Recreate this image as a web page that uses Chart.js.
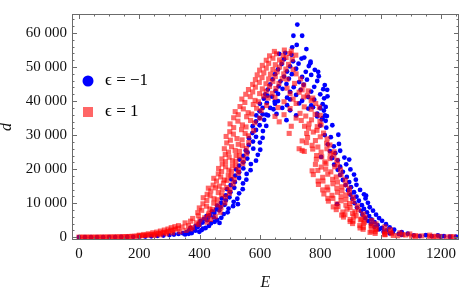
<!DOCTYPE html>
<html>
<head>
<meta charset="utf-8">
<script src="https://cdn.jsdelivr.net/npm/chart.js@4.4.0/dist/chart.umd.min.js"></script>
<style>
  html, body { margin: 0; padding: 0; background: #fff; }
  #wrap { width: 463px; height: 291px; }
</style>
</head>
<body>
<div id="wrap"><canvas id="chart" width="463" height="291"></canvas></div>
<script>

// eps = -1 (blue dots)
const blueTail = [
  [0, 0], [20, 0], [40, 0], [60, 0], [80, 0], [100, 0.02], [120, 0.03], [140, 0.05], [160, 0.07],
  [180, 0.1], [200, 0.14], [220, 0.2], [240, 0.27], [260, 0.36], [280, 0.48], [300, 0.62],
  [315, 0.78], [330, 0.95], [345, 1.15], [352, 0.8], [364, 1.0]
];
const blueRise = [
  [357, 1.5], [374, 1.2], [386, 1.9], [366, 2.1], [382, 2.3], [399, 1.6], [411, 2.5],
  [370, 2.7], [394, 3.0], [407, 2.1], [387, 3.3], [400, 3.6], [420, 2.7],
  [398, 4.0], [410, 4.3], [431, 3.3], [403, 4.8], [425, 5.0], [438, 4.1],
  [414, 5.3], [428, 5.7], [450, 4.5], [466, 4.2], [423, 6.2], [447, 5.8], [458, 5.1],
  [435, 6.5], [449, 7.1], [472, 5.7], [441, 7.6], [465, 7.9], [480, 6.8],
  [455, 8.2], [469, 8.8], [493, 7.3], [458, 9.3], [483, 9.5], [496, 8.4],
  [471, 10.1], [487, 10.8], [511, 9.1], [474, 11.4], [499, 11.7], [513, 10.4], [527, 9.7],
  [487, 12.3], [502, 13.2], [525, 11.3], [491, 14.1], [515, 14.5], [531, 12.9],
  [503, 15.3], [517, 16.2], [543, 14.1], [505, 17.0], [531, 17.4], [544, 15.8],
  [518, 18.1], [531, 19.1], [555, 16.9], [521, 19.9], [545, 20.2], [556, 18.6],
  [531, 21.0], [545, 22.0], [569, 19.7], [532, 22.8], [558, 23.1], [570, 21.5],
  [545, 23.9], [559, 24.9], [587, 22.5], [553, 25.5], [578, 26.0], [593, 24.2],
  [563, 27.1], [577, 28.1], [601, 25.7], [564, 29.1], [587, 29.5], [600, 27.8],
  [575, 30.6], [587, 31.5], [609, 29.2], [576, 32.6], [599, 32.9], [610, 31.2],
  [587, 34.0], [599, 35.0], [621, 32.7], [588, 35.8], [609, 36.1], [614, 34.5],
  [599, 37.0], [609, 38.0], [627, 35.8], [600, 39.2], [623, 39.5], [634, 38.0],
  [613, 40.7], [625, 41.6], [649, 39.8]
];
const blueCap = [
  [618, 42.0], [640, 41.3], [660, 42.1], [690, 41.0], [720, 41.8], [760, 41.2], [800, 42.0], [824, 41.4],
  [626, 43.4], [652, 43.0], [675, 43.6], [700, 42.7], [735, 43.3], [770, 42.8], [810, 43.5], [823, 43.3],
  [634, 44.9], [662, 44.3], [688, 45.0], [712, 44.1], [745, 44.8], [780, 44.2], [815, 44.7],
  [642, 46.4], [668, 45.8], [696, 46.6], [730, 45.6], [756, 46.3], [790, 45.9],
  [650, 47.9], [680, 47.2], [706, 47.9], [740, 47.1], [770, 47.7], [795, 47.3],
  [660, 49.3], [690, 48.7], [720, 49.5], [752, 48.6], [782, 49.2], [793, 48.6],
  [672, 50.9], [700, 50.2], [728, 51.0], [762, 50.3], [767, 51.1],
  [680, 52.3], [710, 51.7], [738, 52.5], [768, 51.6],
  [664, 53.9], [684, 54.2], [747, 52.8], [705, 53.6],
  [707, 55.8], [754, 55.3], [722, 56.5],
  [711, 59.2], [740, 59.2], [724, 62.5],
  [621, 36.0], [655, 36.2], [674, 38.0], [688, 34.4], [650, 39.2], [690, 38.8], [730, 39.3], [770, 38.7], [808, 39.1],
  [645, 37.6], [700, 37.3], [760, 37.8], [812, 37.2], [720, 35.8], [790, 36.3], [816, 35.8], [805, 34.6], [818, 34.2],
  [776, 38.2], [800, 37.9], [818, 38.3], [813, 40.8], [660, 40.0], [700, 40.5], [740, 40.1], [780, 40.4]
];
const blueFall = [
  [790, 35.5], [808, 35.0], [822, 35.6],
  [800, 32.8], [820, 32.2], [840, 32.9],
  [815, 30.0], [835, 29.4], [860, 30.1],
  [825, 27.3], [845, 26.7], [862, 27.4],
  [832, 25.3], [850, 24.7], [866, 25.4],
  [838, 23.3], [858, 22.6], [880, 23.4], [896, 22.8], [803, 23.6], [840, 23.3],
  [846, 21.3], [866, 20.7], [886, 21.4],
  [858, 19.8], [875, 19.2], [900, 19.9],
  [866, 18.3], [888, 17.7], [912, 18.4],
  [875, 16.8], [896, 16.2], [918, 16.9],
  [884, 15.3], [902, 14.7], [920, 15.4],
  [892, 13.8], [912, 13.2], [932, 13.9],
  [900, 12.5], [920, 11.9], [945, 12.6], [952, 12.2],
  [906, 11.3], [928, 10.7], [950, 11.4],
  [856, 9.7], [914, 10.0], [938, 9.4], [958, 10.1],
  [922, 8.7], [945, 8.3], [964, 8.8],
  [935, 7.7], [955, 7.3], [975, 7.8],
  [940, 6.6], [962, 6.2], [985, 6.6],
  [948, 5.6], [970, 5.2], [995, 5.6],
  [958, 4.8], [980, 4.4], [1005, 4.8],
  [968, 3.9], [990, 3.5], [1018, 3.8],
  [980, 3.0], [1005, 2.7], [1030, 2.9],
  [995, 2.3], [1020, 2.0], [1045, 2.2],
  [1010, 1.6], [1040, 1.4], [1070, 1.5],
  [1030, 1.1], [1060, 0.95], [1090, 1.0],
  [1070, 0.65], [1110, 0.55], [1150, 0.6], [1190, 0.5],
  [1130, 0.32], [1170, 0.28], [1210, 0.3],
  [1200, 0.16], [1230, 0.14], [1250, 0.15]
];

// eps = 1 (red squares)
const redTail = [
  [0, 0], [8, 0], [16, 0], [24, 0], [32, 0], [40, 0], [48, 0], [56, 0], [64, 0.02], [72, 0.02],
  [80, 0.03], [88, 0.03], [96, 0.05], [104, 0.05], [112, 0.07], [120, 0.08], [128, 0.1], [136, 0.1],
  [144, 0.13], [152, 0.15], [160, 0.18], [168, 0.2], [176, 0.25], [184, 0.28], [192, 0.32],
  [200, 0.38], [208, 0.44], [216, 0.5], [224, 0.58], [232, 0.65], [240, 0.75], [248, 0.85],
  [256, 0.95], [264, 1.05], [272, 1.2], [280, 1.35], [288, 1.5], [296, 1.7], [304, 1.9],
  [312, 2.1], [320, 2.35], [328, 2.6],
  [200, 0.6], [215, 0.8], [230, 1.0], [245, 1.3], [258, 1.5], [270, 1.8], [283, 2.1], [295, 2.4],
  [306, 2.8], [318, 3.1], [330, 3.4], [250, 0.5], [270, 0.7], [290, 1.0], [310, 1.3], [335, 1.6],
  [355, 2.0], [370, 2.4]
];
const redRise = [
  [342, 3.0], [363, 3.4], [376, 2.8], [397, 3.7], [352, 4.2],
  [370, 4.7], [389, 4.2], [401, 5.1], [425, 4.4], [436, 5.2],
  [377, 5.5], [396, 6.3], [417, 5.7], [429, 6.5], [452, 6.0],
  [394, 7.2], [407, 7.9], [431, 7.0], [443, 8.1], [468, 7.3],
  [399, 8.6], [423, 9.1], [434, 8.3], [459, 9.5], [471, 8.7],
  [411, 9.8], [424, 10.8], [447, 10.0], [459, 11.0], [484, 10.1],
  [412, 11.6], [435, 12.2], [448, 11.3], [473, 12.4], [486, 11.8],
  [425, 12.6], [437, 13.6], [462, 13.1], [475, 13.9], [499, 12.9],
  [429, 14.4], [453, 14.5], [465, 15.0], [490, 14.6], [501, 14.0],
  [445, 15.3], [456, 16.5], [479, 15.9], [491, 16.7], [511, 15.6],
  [447, 17.3], [470, 17.7], [482, 16.8], [504, 18.0], [515, 17.0],
  [462, 18.6], [473, 19.3], [495, 18.2], [506, 19.4], [528, 18.8],
  [463, 20.2], [486, 20.7], [497, 19.7], [520, 20.9], [529, 19.8],
  [475, 21.5], [486, 22.2], [509, 21.0], [520, 22.3], [543, 21.6],
  [474, 23.0], [498, 23.5], [509, 22.5], [532, 23.8], [545, 22.9],
  [485, 24.3], [496, 25.0], [521, 24.0], [532, 25.2], [556, 24.5],
  [482, 26.0], [506, 26.6], [518, 25.5], [542, 26.9], [555, 26.1],
  [490, 27.7], [502, 28.5], [528, 27.3], [541, 28.6], [563, 27.9],
  [488, 29.6], [512, 30.3], [524, 29.0], [551, 30.5], [562, 29.8],
  [500, 31.0], [513, 32.2], [539, 31.6], [554, 32.4], [579, 31.3],
  [501, 33.3], [527, 34.1], [542, 33.0], [569, 34.3], [583, 33.6],
  [513, 35.1], [528, 36.0], [556, 35.4], [573, 36.2], [600, 35.0],
  [518, 36.9], [545, 37.7], [561, 36.6], [589, 37.9], [604, 37.2],
  [534, 38.4], [550, 39.6], [578, 39.0], [595, 39.8], [622, 38.7],
  [540, 40.6], [568, 41.3], [584, 40.2], [612, 41.5], [627, 40.9]
];
const redCap = [
  [553, 42.0], [576, 42.7], [599, 42.2], [621, 42.9], [641, 42.3],
  [562, 43.4], [585, 44.1], [608, 43.6], [632, 44.3], [653, 43.7],
  [576, 44.9], [598, 45.5], [620, 45.1], [643, 45.8], [663, 45.2],
  [585, 46.3], [607, 46.9], [629, 46.5], [651, 47.2], [674, 46.6],
  [591, 47.7], [613, 48.3], [635, 47.9], [657, 48.6], [679, 48.0],
  [599, 49.1], [621, 49.7], [643, 49.3], [665, 50.0], [686, 49.4],
  [608, 50.5], [629, 51.1], [651, 50.7], [673, 51.4], [695, 50.8],
  [621, 52.0], [643, 52.6], [665, 52.1], [687, 52.8], [707, 52.3],
  [632, 53.3], [655, 53.9], [677, 53.4], [699, 54.0], [719, 53.5],
  [648, 54.6], [681, 55.0], [704, 54.7],
  [700, 42.2], [730, 42.6], [690, 43.8], [740, 43.3], [715, 45.2], [745, 44.7], [735, 46.5],
  [720, 48.0], [710, 49.3], [757, 41.6], [770, 40.2], [785, 39.3], [660, 38.1], [700, 37.8],
  [747, 38.3], [770, 37.6], [797, 38.2], [680, 39.8], [720, 39.3], [650, 41.1], [710, 40.6],
  [745, 41.2], [775, 40.9], [760, 43.0], [690, 46.4],
  [664, 33.9], [697, 30.5], [704, 32.6], [730, 26.0], [740, 25.5], [747, 25.2], [754, 27.8],
  [740, 28.3], [680, 36.0], [720, 35.0], [650, 35.5]
];
const redFall = [
  [733, 36.4], [752, 35.6], [783, 36.1], [800, 35.8],
  [737, 34.3], [771, 34.5], [799, 34.0], [763, 33.3],
  [748, 32.6], [761, 32.0], [790, 32.5], [803, 33.0],
  [755, 30.5], [777, 30.9], [811, 30.6], [789, 31.4],
  [758, 29.3], [784, 28.4], [800, 29.5], [823, 28.9],
  [773, 27.0], [792, 26.5], [821, 27.6], [832, 27.1],
  [775, 25.9], [803, 25.0], [822, 26.0], [846, 25.1],
  [788, 24.0], [805, 23.6], [833, 24.6], [845, 24.1],
  [787, 22.9], [815, 22.1], [832, 23.1], [855, 22.6],
  [784, 21.4], [803, 20.6], [819, 21.6], [848, 20.7], [857, 21.3],
  [773, 19.5], [792, 19.6], [818, 20.0], [835, 19.2], [867, 19.8],
  [777, 18.4], [808, 17.6], [825, 18.5], [853, 17.7], [869, 18.3],
  [793, 16.5], [809, 16.5], [841, 17.0], [857, 16.2], [883, 16.8],
  [794, 15.5], [823, 14.7], [842, 15.7], [871, 14.8], [885, 15.4],
  [808, 13.9], [825, 13.9], [855, 14.4], [872, 13.6], [897, 14.2],
  [812, 12.7], [839, 12.3], [857, 13.2], [885, 12.4], [897, 13.0],
  [825, 11.4], [842, 11.4], [869, 11.9], [885, 11.1], [909, 11.7],
  [827, 10.6], [855, 9.8], [869, 10.7], [897, 9.9], [909, 10.5],
  [843, 8.9], [859, 9.0], [885, 9.4], [899, 8.7], [923, 9.2],
  [853, 8.1], [875, 7.4], [889, 8.2], [915, 7.5], [927, 8.0],
  [871, 6.5], [882, 6.6], [907, 7.0], [919, 6.3], [943, 6.8],
  [877, 5.9], [899, 5.2], [911, 6.0], [937, 5.3], [949, 5.8],
  [899, 4.6], [909, 4.7], [933, 5.1], [947, 4.4], [971, 4.9],
  [907, 4.0], [931, 3.4], [943, 4.1], [969, 3.4], [985, 3.9],
  [932, 2.7], [943, 2.9], [969, 3.2], [985, 2.5], [1014, 3.0],
  [942, 2.3], [969, 1.8], [985, 2.3], [1015, 1.8], [1033, 2.2],
  [965, 1.4], [982, 1.6], [1013, 1.2], [1033, 1.6], [1064, 1.3],
  [982, 1.1], [1015, 0.8], [1037, 1.05], [1073, 0.75], [1097, 0.95],
  [1014, 0.7], [1042, 0.5], [1083, 0.65], [1117, 0.45], [1163, 0.6],
  [1057, 0.42], [1103, 0.3], [1137, 0.38], [1183, 0.28],
  [1117, 0.24], [1163, 0.17], [1197, 0.22], [1233, 0.14],
  [1177, 0.12], [1218, 0.07], [1242, 0.11]
];

const seriesLabels = ['\u03F5 = \u22121', '\u03F5 = 1'];
const xMajorTicks = [0, 200, 400, 600, 800, 1000, 1200];
const yMajorTicks = [0, 10000, 20000, 30000, 40000, 50000, 60000];

function toPoints(...parts) {
  return [].concat(...parts).map(([e, d]) => ({ x: e, y: d * 1000 }));
}

// 5+ digit numbers get a space between the groups, like the original
function groupDigits(v) {
  return v >= 10000 ? String(v).replace(/\B(?=(\d{3})+(?!\d))/g, ' ') : String(v);
}

const serif = 'Liberation Serif, Times New Roman, serif';
const frameColor = '#6b6b6b';

// frame round the plot with inward ticks on all four sides
const frameTicks = {
  id: 'frameTicks',
  afterDatasetsDraw(chart) {
    const { ctx, chartArea: a, scales: { x, y } } = chart;
    ctx.save();
    ctx.strokeStyle = frameColor;
    ctx.lineWidth = 1;
    ctx.strokeRect(a.left + 0.5, a.top + 0.5, a.right - a.left - 1, a.bottom - a.top - 1);
    ctx.beginPath();
    for (let v = 0; v <= 1250; v += 50) {
      const px = Math.round(x.getPixelForValue(v)) + 0.5;
      const len = xMajorTicks.includes(v) ? 5 : 2.5;
      ctx.moveTo(px, a.bottom); ctx.lineTo(px, a.bottom - len);
      ctx.moveTo(px, a.top); ctx.lineTo(px, a.top + len);
    }
    for (let v = 0; v <= 64000; v += 2000) {
      const py = Math.round(y.getPixelForValue(v)) + 0.5;
      const len = yMajorTicks.includes(v) ? 5 : 2.5;
      ctx.moveTo(a.left, py); ctx.lineTo(a.left + len, py);
      ctx.moveTo(a.right, py); ctx.lineTo(a.right - len, py);
    }
    ctx.stroke();
    ctx.restore();
  }
};

// legend sits inside the plot, top left
const innerLegend = {
  id: 'innerLegend',
  afterDraw(chart) {
    const { ctx } = chart;
    const ds = chart.data.datasets;
    ctx.save();
    ctx.fillStyle = ds[0].backgroundColor;
    ctx.beginPath();
    ctx.arc(88, 81, 5.5, 0, Math.PI * 2);
    ctx.fill();
    ctx.fillStyle = ds[1].backgroundColor;
    ctx.fillRect(83, 107, 10, 10);
    ctx.fillStyle = '#000';
    ctx.font = '17px ' + serif;
    ctx.textBaseline = 'middle';
    ctx.fillText(ds[0].label, 105, 81);
    ctx.fillText(ds[1].label, 105, 112);
    ctx.restore();
  }
};

new Chart(document.getElementById('chart'), {
  type: 'scatter',
  data: {
    datasets: [
      {
        label: seriesLabels[0],
        data: toPoints(blueTail, blueRise, blueCap, blueFall),
        backgroundColor: 'rgb(0, 0, 255)',
        borderWidth: 0,
        pointRadius: 2.4,
        pointStyle: 'circle',
        order: 2
      },
      {
        label: seriesLabels[1],
        data: toPoints(redTail, redRise, redCap, redFall),
        backgroundColor: 'rgba(255, 0, 0, 0.6)',
        borderWidth: 0,
        pointRadius: 3.6,
        pointStyle: 'rect',
        order: 1
      }
    ]
  },
  options: {
    responsive: false,
    animation: false,
    devicePixelRatio: 1,
    layout: { padding: { top: 1, right: 3, left: 0, bottom: 0 } },
    plugins: { legend: { display: false }, tooltip: { enabled: false } },
    scales: {
      x: {
        type: 'linear',
        min: -23,
        max: 1260,
        afterFit(s) { s.height = 51; },
        afterBuildTicks(s) { s.ticks = xMajorTicks.map(v => ({ value: v })); },
        grid: { display: false, drawTicks: false },
        border: { display: false },
        ticks: {
          padding: 5,
          maxRotation: 0,
          autoSkip: false,
          color: '#111',
          font: { family: serif, size: 15 },
          callback: v => String(v)
        },
        title: {
          display: true,
          text: 'E',
          color: '#111',
          font: { family: serif, size: 16, style: 'italic' },
          padding: { top: 0, bottom: -1 }
        }
      },
      y: {
        type: 'linear',
        min: -830,
        max: 65600,
        afterFit(s) { s.width = 72; },
        afterBuildTicks(s) { s.ticks = yMajorTicks.map(v => ({ value: v })); },
        grid: { display: false, drawTicks: false },
        border: { display: false },
        ticks: {
          padding: 5,
          autoSkip: false,
          color: '#111',
          font: { family: serif, size: 15 },
          callback: v => groupDigits(v)
        },
        title: {
          display: true,
          text: 'd',
          color: '#111',
          font: { family: serif, size: 16, style: 'italic' },
          padding: { top: -3, bottom: 0 }
        }
      }
    }
  },
  plugins: [frameTicks, innerLegend]
});
</script>
</body>
</html>
